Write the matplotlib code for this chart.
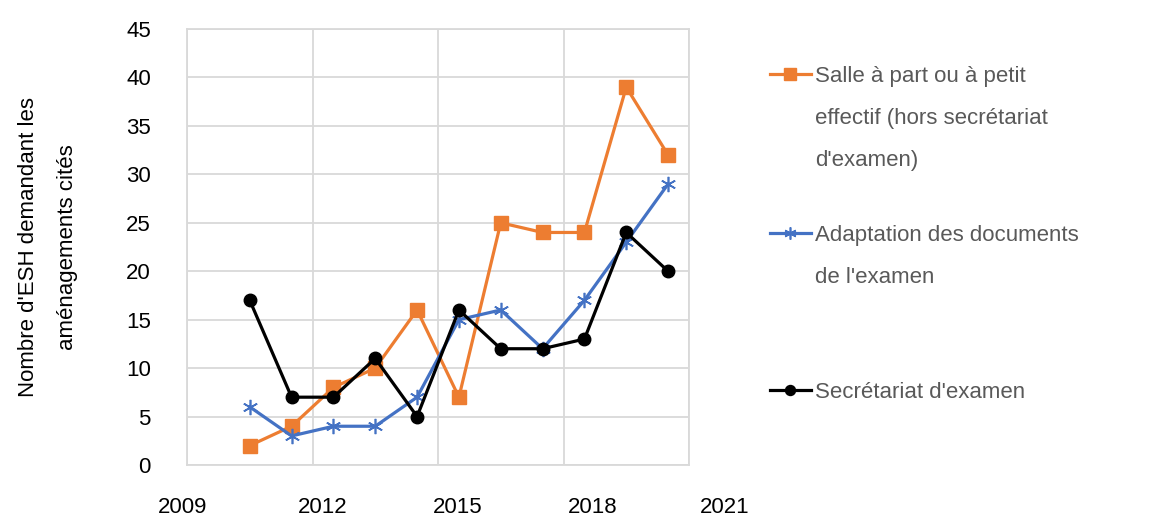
import matplotlib
matplotlib.use("Agg")
import matplotlib.pyplot as plt
from matplotlib.lines import Line2D
from matplotlib.transforms import ScaledTranslation

plt.rcParams['font.family'] = ['Liberation Sans', 'DejaVu Sans']

years = [2010.5, 2011.5, 2012.5, 2013.5, 2014.5, 2015.5, 2016.5, 2017.5, 2018.5, 2019.5, 2020.5]
salle = [2, 4, 8, 10, 16, 7, 25, 24, 24, 39, 32]
adaptation = [6, 3, 4, 4, 7, 15, 16, 12, 17, 23, 29]
secretariat = [17, 7, 7, 11, 5, 16, 12, 12, 13, 24, 20]

labels = ["Salle à part ou à petit\neffectif (hors secrétariat\nd'examen)",
          "Adaptation des documents\nde l'examen",
          "Secrétariat d'examen"]
xticks = [2009, 2012, 2015, 2018, 2021]
yticks = list(range(0, 46, 5))

W, H = 1171, 517
fig = plt.figure(figsize=(W / 100, H / 100), dpi=100)
ax = fig.add_axes([187 / W, 1 - 465 / H, (689 - 187) / W, (465 - 29) / H])

orange, blue, black = '#ED7D31', '#4472C4', '#000000'
styles = [
    dict(color=orange, marker='s', markersize=10, lw=2.3),
    dict(color=blue, marker=(6, 2, 0), markersize=11, lw=2.3, markeredgewidth=1.2),
    dict(color=black, marker='o', markersize=9, lw=2.3),
]
series = [salle, adaptation, secretariat]
for vals, st in zip(series, styles):
    ax.plot(years, vals, **st, zorder=3)

ax.set_xlim(2009, 2021)
ax.set_ylim(0, 45)
ax.set_xticks(xticks)
ax.set_yticks(yticks)
ax.grid(True, color='#d9d9d9', lw=1.3)
ax.set_axisbelow(True)
for s in ax.spines.values():
    s.set_color('#d9d9d9')
    s.set_linewidth(1.3)
ax.tick_params(length=0, labelsize=16, colors='#000000', pad=26)
ax.tick_params(axis='x', pad=23)

# Excel-style spread of the category labels below the axis
offsets_px = [-4, 10, 20, 29, 36]
for lab, dx in zip(ax.get_xticklabels(), offsets_px):
    lab.set_transform(lab.get_transform() + ScaledTranslation(dx / 100, 0, fig.dpi_scale_trans))

fig.text(48 / W, 1 - 247 / H, "Nombre d'ESH demandant les\naménagements cités",
         rotation=90, ha='center', va='center', fontsize=16, linespacing=2.1,
         multialignment='center')

# legend (manual, handles aligned with first line)
ys = [74, 233, 390]
for y, st, lab in zip(ys, styles, labels):
    yf = 1 - y / H
    fig.add_artist(Line2D([770 / W, 811 / W], [yf, yf], color=st['color'], lw=2.3,
                          transform=fig.transFigure))
    kw = {k: v for k, v in st.items() if k in ('marker', 'markersize', 'markeredgewidth')}
    kw['markersize'] = kw.get('markersize', 8) * 0.8
    fig.add_artist(Line2D([790 / W], [yf], color=st['color'], lw=0,
                          transform=fig.transFigure, **kw))
    fig.text(815 / W, 1 - (y - 8) / H, lab, ha='left', va='top', fontsize=16,
             color='#595959', linespacing=2.3)

fig.savefig('out.png', dpi=100)
